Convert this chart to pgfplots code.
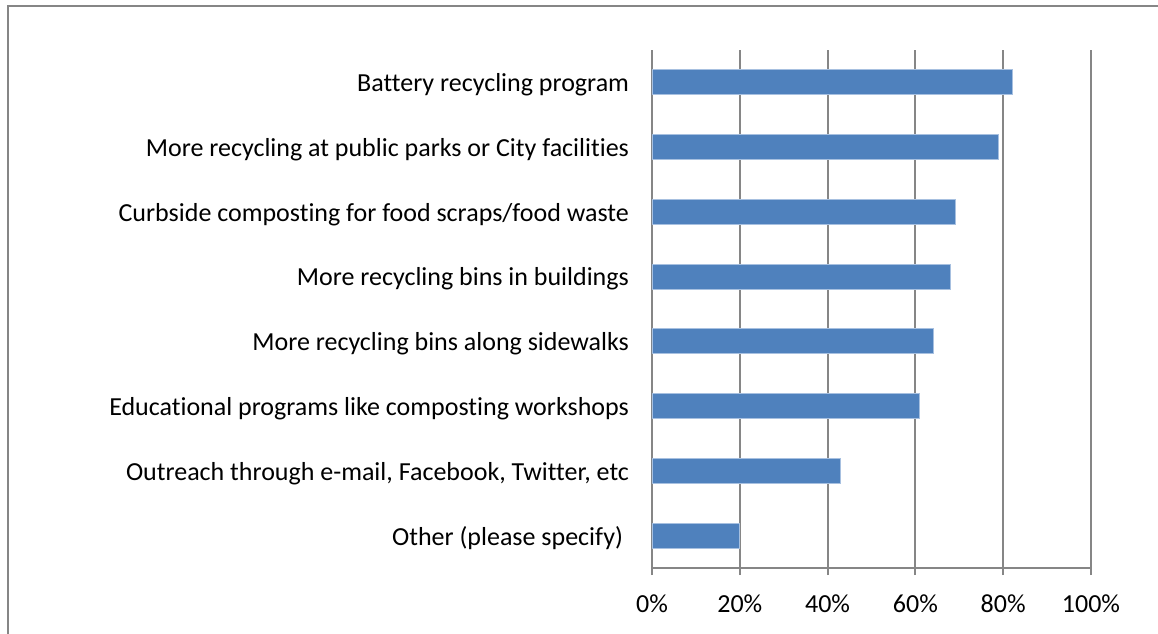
\documentclass[border=0pt]{standalone}
\usepackage{pgfplots}
\pgfplotsset{compat=1.18}
\usepackage{fontspec}
\setmainfont{Carlito}[Ligatures={NoCommon}]
\definecolor{barblue}{HTML}{4F81BD}
\definecolor{baredge}{HTML}{A7C0E0}
\definecolor{axgray}{HTML}{868686}
\begin{document}
\begin{tikzpicture}
\useasboundingbox (0pt,0pt) rectangle (579pt,316.5pt);
\draw[axgray, line width=1pt] (4pt,-5pt) -- (4pt,313.5pt) -- (590pt,313.5pt);
\begin{axis}[
  at={(326pt,32.5pt)}, anchor=south west,
  width=219.5pt, height=259pt, scale only axis=true,
  xbar, bar width=12.5pt,
  xmin=0, xmax=100, ymin=-0.5, ymax=7.5, y dir=reverse,
  axis x line*=bottom, axis y line*=left,
  axis line style={axgray, line width=1pt},
  xtick={0,20,...,100},
  xticklabel={\pgfmathprintnumber{\tick}\%},
  xmajorgrids, grid style={axgray, line width=1pt},
  major tick length=3.5pt,
  x tick style={axgray, line width=1pt},
  tick align=outside,
  xticklabel style={font=\fontsize{13}{15}\selectfont, yshift=-6.5pt},
  ytick={0,...,7},
  yticklabels={Battery recycling program, More recycling at public parks or City facilities, Curbside composting for food scraps/food waste, More recycling bins in buildings, More recycling bins along sidewalks, Educational programs like composting workshops, {Outreach through e-mail, Facebook, Twitter, etc}, Other (please specify)\kern3pt\hbox{}},
  y tick style={draw=none},
  minor ytick={-0.5,0.5,...,7.5},
  minor y tick style={axgray, line width=1pt},
  minor tick length=6pt,
  yticklabel style={font=\fontsize{13}{15}\selectfont, xshift=-4.5pt, yshift=-1.2pt},
  /pgf/number format/assume math mode=true,
  clip=false,
]
\addplot[fill=barblue, draw=baredge, line width=0.4pt] coordinates {
(82,0) (79,1) (69,2) (68,3) (64,4) (61,5) (43,6) (20,7)};
\end{axis}
\end{tikzpicture}
\end{document}
